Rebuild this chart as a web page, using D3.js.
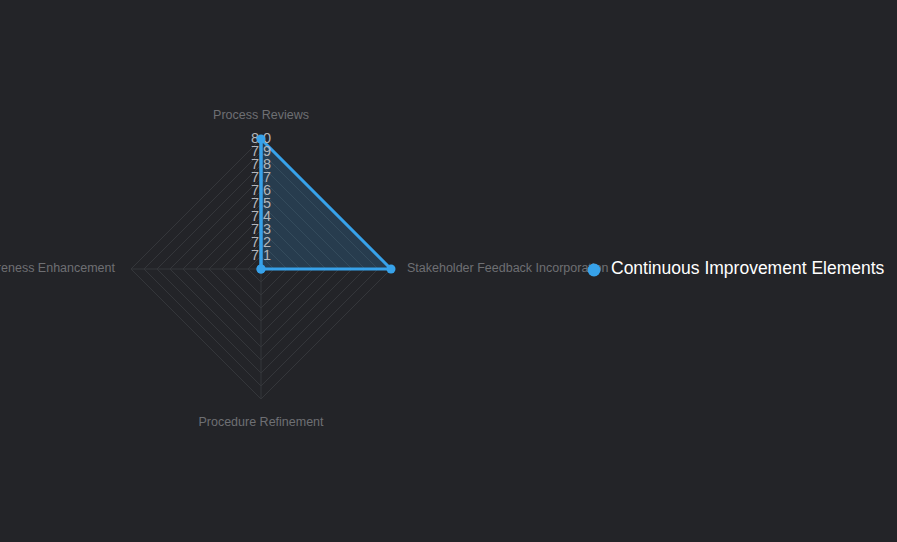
<!DOCTYPE html>
<html><head><meta charset="utf-8">
<script src="https://cdn.jsdelivr.net/npm/d3@7"></script>
<style>
html,body{margin:0;padding:0;background:#232428;}
svg{display:block;}
</style></head>
<body>
<svg id="chart" width="897" height="542"></svg>
<script>
const axes = ["Process Reviews", "Stakeholder Feedback Incorporation", "Procedure Refinement", "Awareness Enhancement"];
const seriesName = "Continuous Improvement Elements";
const values = [8.0, 8.0, 7.0, 7.0];
const ticks = [7.1, 7.2, 7.3, 7.4, 7.5, 7.6, 7.7, 7.8, 7.9, 8.0];
const domainMin = 7.0, domainMax = 8.0;

const FONT = "Liberation Sans, Arial, sans-serif";
const svg = d3.select("#chart");
svg.append("rect").attr("width",897).attr("height",542).attr("fill","#232428");
const cx = 261, cy = 269, R = 130;
const r = d3.scaleLinear().domain([domainMin, domainMax]).range([0, R]);
const ang = i => -Math.PI/2 + i * 2*Math.PI/axes.length;
const pt = (i, v) => [cx + r(v)*Math.cos(ang(i)), cy + r(v)*Math.sin(ang(i))];

const g = svg.append("g");
ticks.forEach(t => {
  g.append("polygon")
    .attr("points", axes.map((a,i)=>pt(i,t).join(",")).join(" "))
    .attr("fill","none").attr("stroke","#34363a").attr("stroke-width",1);
});
axes.forEach((a,i)=>{
  const [x,y] = pt(i, domainMax);
  g.append("line").attr("x1",cx).attr("y1",cy).attr("x2",x).attr("y2",y)
    .attr("stroke","#34363a").attr("stroke-width",1);
});
axes.forEach((a,i)=>{
  const c = Math.cos(ang(i)), s = Math.sin(ang(i));
  const off = Math.abs(s) > 0.5 ? 153.5 : 146;
  const x = cx + off*c, y = cy + off*s;
  g.append("text").attr("x",x).attr("y",y)
    .attr("text-anchor", Math.abs(c)<0.01 ? "middle" : (c>0 ? "start" : "end"))
    .attr("dominant-baseline","middle")
    .attr("font-family",FONT).attr("font-size",12.5)
    .attr("fill","#6e6f73").text(a);
});
const line = d3.line().curve(d3.curveLinearClosed);
const pts = values.map((v,i)=>pt(i,v));
g.append("path").attr("d", line(pts))
  .attr("fill","rgba(55,160,232,0.2)").attr("stroke","#37a2ea").attr("stroke-width",3)
  .attr("stroke-linejoin","round");
ticks.forEach(t=>{
  g.append("text").attr("x",cx).attr("y",cy - r(t) + 0.5)
    .attr("text-anchor","middle").attr("dominant-baseline","middle")
    .attr("font-family",FONT).attr("font-size",14.5)
    .attr("fill","#b4b6ba").text(t.toFixed(1));
});
g.append("line").attr("x1",cx).attr("y1",cy).attr("x2",pt(0,domainMax)[0]).attr("y2",pt(0,domainMax)[1])
  .attr("stroke","#37a2ea").attr("stroke-width",3);
g.selectAll("circle.pt").data(pts).enter().append("circle")
  .attr("cx",d=>d[0]).attr("cy",d=>d[1]).attr("r",4.5).attr("fill","#37a2ea");
svg.append("circle").attr("cx",594).attr("cy",270).attr("r",6.5).attr("fill","#37a2ea");
svg.append("text").attr("x",611).attr("y",269.5).attr("dominant-baseline","middle")
  .attr("font-family",FONT).attr("font-size",17.5)
  .attr("fill","#ffffff").text(seriesName);
</script>
</body></html>
